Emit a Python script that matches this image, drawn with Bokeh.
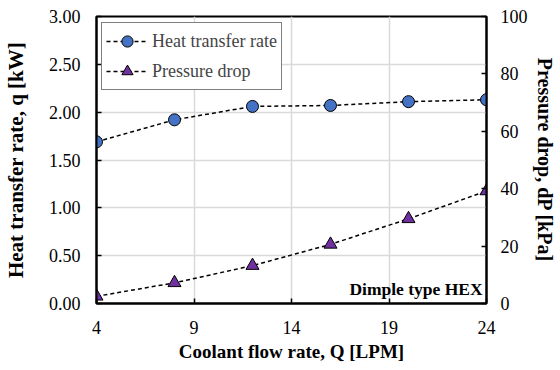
from bokeh.plotting import figure
from bokeh.models import (Range1d, LinearAxis, FixedTicker, NumeralTickFormatter,
                          Label, Legend)
from bokeh.embed import file_html
from bokeh.resources import INLINE

flow = [4, 8, 12, 16, 20, 24]
heat_rate = [1.69, 1.92, 2.06, 2.07, 2.11, 2.13]
pressure_drop = [2.5, 7.2, 13.2, 20.6, 29.5, 39.2]
x_ticks = [4, 9, 14, 19, 24]
left_ticks = [0.0, 0.5, 1.0, 1.5, 2.0, 2.5, 3.0]
right_ticks = [0, 20, 40, 60, 80, 100]

SERIF = "'Liberation Serif', serif"
BLUE = "#4472C4"
PURPLE = "#7030A0"

p = figure(width=560, height=370, x_range=Range1d(4, 24), y_range=Range1d(0, 3),
           output_backend="svg", toolbar_location=None,
           min_border_left=96, min_border_right=74, min_border_top=16, min_border_bottom=67,
           x_axis_location=None, y_axis_location=None)
p.extra_y_ranges = {"dp": Range1d(0, 100)}

xaxis = LinearAxis(ticker=FixedTicker(ticks=x_ticks),
                   axis_label="Coolant flow rate, Q [LPM]")
yaxis = LinearAxis(ticker=FixedTicker(ticks=left_ticks),
                   formatter=NumeralTickFormatter(format="0.00"),
                   axis_label="Heat transfer rate, q [kW]")
raxis = LinearAxis(y_range_name="dp", ticker=FixedTicker(ticks=right_ticks),
                   axis_label="Pressure drop, dP [kPa]")
p.add_layout(xaxis, "below")
p.add_layout(yaxis, "left")
p.add_layout(raxis, "right")

for ax in (xaxis, yaxis, raxis):
    ax.axis_line_color = "black"
    ax.axis_line_width = 2
    ax.major_tick_in = 5
    ax.major_tick_out = 0
    ax.major_tick_line_color = "black"
    ax.major_tick_line_width = 1.5
    ax.minor_tick_line_color = None
    ax.major_label_text_font = SERIF
    ax.major_label_text_font_size = "18px"
    ax.major_label_text_color = "black"
    ax.axis_label_text_font = SERIF
    ax.axis_label_text_font_style = "bold"
    ax.axis_label_text_color = "black"

xaxis.major_label_standoff = 17
xaxis.axis_label_text_font_size = "19px"
xaxis.axis_label_standoff = 4
yaxis.major_label_standoff = 16
yaxis.axis_label_text_font_size = "21px"
yaxis.axis_label_standoff = 18
raxis.major_label_standoff = 14
raxis.axis_label_text_font_size = "20px"
raxis.axis_label_standoff = 3

p.xgrid.ticker = FixedTicker(ticks=x_ticks)
p.ygrid.ticker = FixedTicker(ticks=left_ticks)
p.xgrid.grid_line_color = "#d9d9d9"
p.ygrid.grid_line_color = "#d9d9d9"
p.xgrid.grid_line_width = 1.5
p.ygrid.grid_line_width = 1.5
p.outline_line_color = "black"
p.outline_line_width = 2
p.outline_line_alpha = 1

l1 = p.line(flow, heat_rate, line_color="black", line_width=1.5, line_dash="4 3")
m1 = p.scatter(flow, heat_rate, marker="circle", size=12, fill_color=BLUE,
               line_color="black", line_width=1)
l2 = p.line(flow, pressure_drop, y_range_name="dp", line_color="black",
            line_width=1.5, line_dash="4 3")
m2 = p.scatter(flow, pressure_drop, y_range_name="dp", marker="triangle", size=13,
               fill_color=PURPLE, line_color="black", line_width=1)

legend = Legend(items=[("Heat transfer rate", [l1, m1]), ("Pressure drop", [l2, m2])],
                location=(5, 213), orientation="vertical",
                label_text_font=SERIF, label_text_font_size="18px",
                glyph_width=42, glyph_height=28, label_height=28,
                label_standoff=4, padding=4, spacing=2, margin=0,
                border_line_color="black", border_line_width=1.5,
                background_fill_alpha=1)
p.add_layout(legend, "center")

p.add_layout(Label(x=23.8, y=0.05, text="Dimple type HEX", text_align="right",
                   text_font=SERIF, text_font_size="17.5px", text_font_style="bold",
                   text_color="black"))

open("out.html", "w").write(file_html(p, INLINE))
